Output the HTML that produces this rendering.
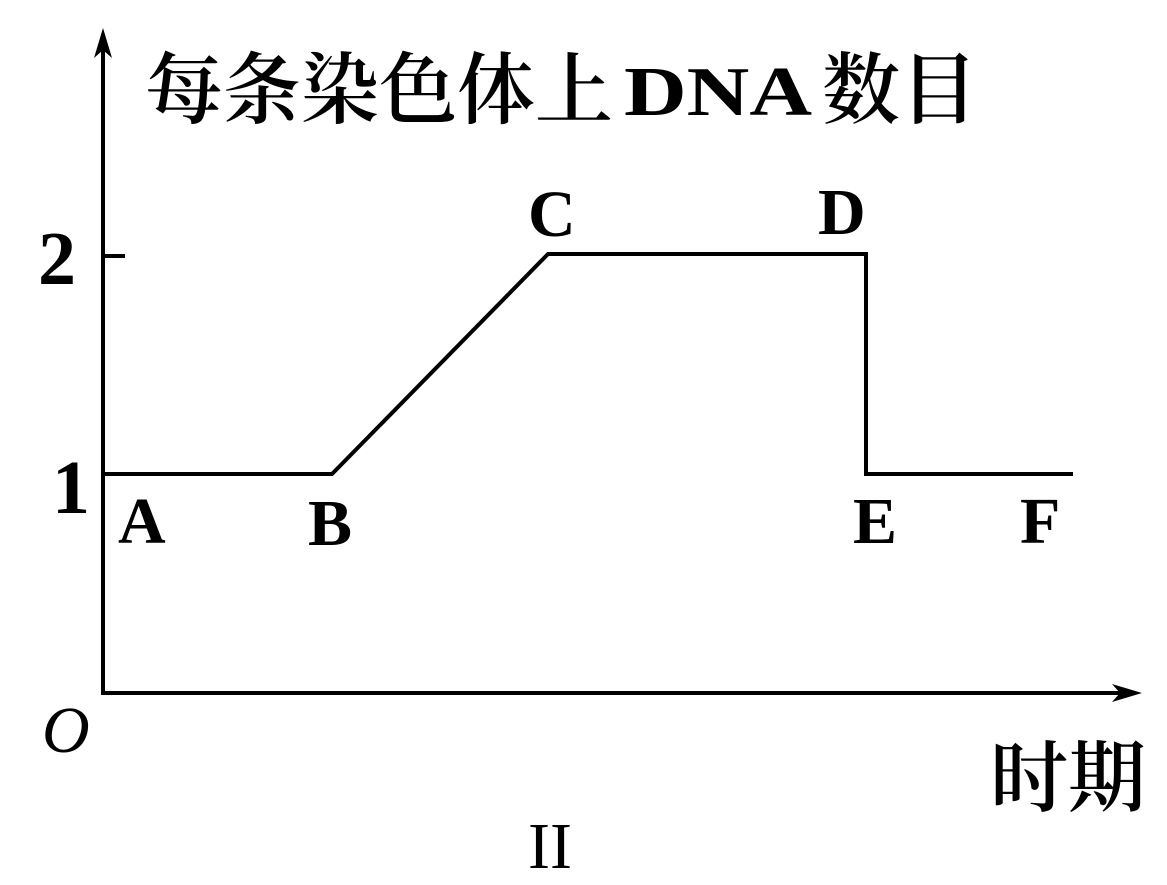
<!DOCTYPE html>
<html><head><meta charset="utf-8"><style>
html,body{margin:0;padding:0;background:#fff;}
svg{display:block}
</style></head><body>
<svg width="1167" height="885" xmlns="http://www.w3.org/2000/svg">
<g stroke="#000" stroke-width="4" fill="none">
<line x1="103" y1="40" x2="103" y2="695"/>
<line x1="101" y1="693" x2="1130" y2="693"/>
<line x1="103" y1="256" x2="125" y2="256"/>
<polyline points="105,474 332,474 548,254 866,254 866,474 1073,474" stroke-linejoin="miter"/>
</g>
<polygon points="103,28 94,58 103,50 112,58" fill="#000"/>
<polygon points="1142,693 1112,684 1120,693 1112,702" fill="#000"/>
<g font-family="'Liberation Serif','Noto Serif CJK SC',serif" font-weight="bold" fill="#000">
<text x="145" y="117" font-size="78" font-weight="600" font-family="'Noto Serif CJK SC','Liberation Serif',serif">每条染色体上</text>
<text x="624" y="115" font-size="70" textLength="188" lengthAdjust="spacingAndGlyphs">DNA</text>
<text x="822" y="117" font-size="78" font-weight="600" font-family="'Noto Serif CJK SC','Liberation Serif',serif">数目</text>
<text x="38" y="284" font-size="76">2</text>
<text x="52" y="513" font-size="76">1</text>
<text x="118" y="543" font-size="66">A</text>
<text x="308" y="545" font-size="66">B</text>
<text x="528" y="236" font-size="66">C</text>
<text x="818" y="234" font-size="66">D</text>
<text x="853" y="543" font-size="66" font-weight="600">E</text>
<text x="1020" y="543" font-size="66" font-weight="600">F</text>
<text x="42" y="752" font-size="66" font-style="italic" font-weight="normal">O</text>
<text x="990" y="805" font-size="78" font-weight="600" font-family="'Noto Serif CJK SC','Liberation Serif',serif">时期</text>
<text x="528" y="868" font-size="66" font-weight="normal">II</text>
</g>
</svg>
</body></html>
